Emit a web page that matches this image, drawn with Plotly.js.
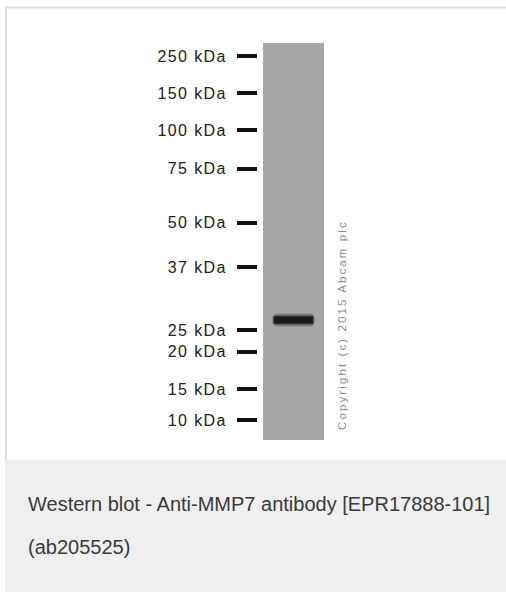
<!DOCTYPE html>
<html>
<head>
<meta charset="utf-8">
<script src="https://cdn.plot.ly/plotly-3.0.1.min.js"></script>
<style>
  html, body { margin: 0; padding: 0; background: #ffffff; }
  #chart { width: 506px; height: 592px; }
  .ytick text { letter-spacing: 1.4px; }
  .annotation[data-index="0"] text { letter-spacing: 2.1px; }
</style>
</head>
<body>
<div id="chart"></div>
<script>
const markerLabels = ['250 kDa', '150 kDa', '100 kDa', '75 kDa', '50 kDa', '37 kDa', '25 kDa', '20 kDa', '15 kDa', '10 kDa'];
const markerKDa = [250, 150, 100, 75, 50, 37, 25, 20, 15, 10];
// relative migration (0 = top of lane, 1 = bottom of lane)
const markerMigration = [0.033, 0.126, 0.219, 0.317, 0.453, 0.564, 0.723, 0.778, 0.872, 0.950];
const laneNames = ['Lane 1'];
const bandMigration = [0.698];
const captionLines = ['Western blot - Anti-MMP7 antibody [EPR17888-101]', '(ab205525)'];
const copyrightText = 'Copyright (c) 2015 Abcam plc';

// ---- layout helpers (figure pixels -> paper fractions) ----
const W = 506, H = 592;
const px = x => x / W;
const py = y => 1 - y / H;

// band drawn as stacked soft strokes (blurred look)
const bandLayers = [
  { half: 0.355, width: 6,  color: 'rgba(70,70,70,0.30)' },
  { half: 0.30,  width: 14, color: 'rgba(80,80,80,0.25)' },
  { half: 0.325, width: 11, color: 'rgba(50,50,50,0.45)' },
  { half: 0.33,  width: 8,  color: 'rgba(30,30,30,0.80)' },
  { half: 0.31,  width: 5,  color: 'rgba(20,20,20,0.90)' }
];

const traces = [
  {
    type: 'bar', x: [0.5], y: [1], base: [0], width: [1],
    name: laneNames[0],
    marker: { color: '#a7a7a7', line: { width: 0 } },
    hoverinfo: 'skip', showlegend: false
  }
].concat(bandLayers.map(b => ({
  type: 'scatter', mode: 'lines',
  x: [0.5 - b.half, 0.5 + b.half],
  y: [bandMigration[0], bandMigration[0]],
  line: { color: b.color, width: b.width },
  hoverinfo: 'skip', showlegend: false
})));

const layout = {
  width: W, height: H,
  margin: { l: 0, r: 0, t: 0, b: 0, pad: 0 },
  paper_bgcolor: '#ffffff',
  plot_bgcolor: 'rgba(0,0,0,0)',
  showlegend: false,
  bargap: 0,
  xaxis: {
    domain: [px(263), px(324)], range: [0, 1], anchor: 'y',
    visible: false, fixedrange: true
  },
  yaxis: {
    domain: [py(440), py(43)], range: [1, 0],
    anchor: 'free', position: px(257), side: 'left',
    tickmode: 'array', tickvals: markerMigration, ticktext: markerLabels,
    ticks: 'outside', ticklen: 20, tickwidth: 3.5, tickcolor: '#111111',
    ticklabelstandoff: 7,
    tickfont: { family: 'Liberation Sans, Arial, sans-serif', size: 16, color: '#222222' },
    showline: false, showgrid: false, zeroline: false, fixedrange: true
  },
  shapes: [
    { type: 'rect', xref: 'paper', yref: 'paper', layer: 'below',
      x0: px(5), x1: px(506), y0: py(592), y1: py(461),
      fillcolor: '#eeefee', line: { width: 0 } },
    { type: 'line', xref: 'paper', yref: 'paper', layer: 'below',
      x0: px(5), x1: px(506), y0: py(7.5), y1: py(7.5),
      line: { color: '#e0e0e0', width: 2 } },
    { type: 'line', xref: 'paper', yref: 'paper', layer: 'below',
      x0: px(6), x1: px(6), y0: py(7), y1: py(461),
      line: { color: '#e0e0e0', width: 2 } },
    { type: 'line', xref: 'paper', yref: 'paper', layer: 'below',
      x0: px(5), x1: px(506), y0: py(461), y1: py(461),
      line: { color: '#e2e3e2', width: 1 } }
  ],
  annotations: [
    { text: copyrightText, xref: 'paper', yref: 'paper',
      x: px(341.5), y: py(325), xanchor: 'center', yanchor: 'middle',
      textangle: -90, showarrow: false,
      font: { family: 'Liberation Sans, Arial, sans-serif', size: 11.5, color: '#8e8e8e' } },
    { text: captionLines[0], xref: 'paper', yref: 'paper',
      x: px(26), y: py(504), xanchor: 'left', yanchor: 'middle', showarrow: false,
      font: { family: 'Liberation Sans, Arial, sans-serif', size: 20, color: '#3a3a3a' } },
    { text: captionLines[1], xref: 'paper', yref: 'paper',
      x: px(26), y: py(546.5), xanchor: 'left', yanchor: 'middle', showarrow: false,
      font: { family: 'Liberation Sans, Arial, sans-serif', size: 20, color: '#3a3a3a' } }
  ]
};

Plotly.newPlot('chart', traces, layout, { staticPlot: true, displayModeBar: false });
</script>
</body>
</html>
